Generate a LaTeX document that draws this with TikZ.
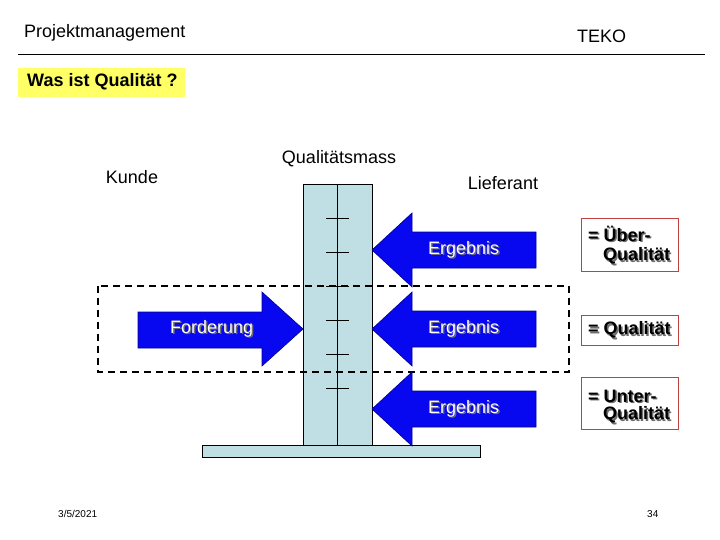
\documentclass[tikz,border=0pt]{standalone}
\usepackage{fontspec}
\setmainfont{Liberation Sans}
\definecolor{colfill}{RGB}{192,223,228}
\definecolor{arrblue}{RGB}{8,8,240}
\definecolor{arredge}{RGB}{0,0,140}
\definecolor{hlyellow}{RGB}{255,255,102}
\definecolor{boxred}{RGB}{192,64,64}
\definecolor{shadowgray}{RGB}{110,110,110}
\tikzset{
  lbl/.style={font=\fontsize{18}{20}\selectfont, inner sep=0pt},
  boldlbl/.style={font=\fontsize{18}{20}\selectfont\bfseries, inner sep=0pt},
  smalllbl/.style={font=\fontsize{10}{12}\selectfont, inner sep=0pt},
  bigarrow/.style={fill=arrblue, draw=arredge, line width=0.6pt},
  resbox/.style={draw=boxred, fill=white, line width=0.8pt},
  shade/.style={text=shadowgray},
}
\newcommand{\shadowed}[4]{% name, position, style, text
  \node[#3, shade, anchor=west] at ($#2+(1.3,1.3)$) {#4};
  \node[#3, anchor=west] (#1) at #2 {#4};
}
\usetikzlibrary{calc}
\begin{document}
\begin{tikzpicture}[x=1pt,y=-1pt]
\useasboundingbox (0,0) rectangle (720,540);
% header
\node[lbl, anchor=west] (title) at (24,33) {Projektmanagement};
\node[lbl, anchor=west] (teko) at (577,36) {TEKO};
\draw[line width=0.8pt] (18,54) -- (705,54);
\fill[hlyellow] (18,68) rectangle (185,97);
\node[boldlbl, anchor=west] (frage) at (27,82) {Was ist Qualität ?};
% labels
\node[lbl] (kunde) at (132,177) {Kunde};
\node[lbl] (mass) at (339,159) {Qualitätsmass};
\node[lbl] (lieferant) at (503,183) {Lieferant};
% base and column
\draw[fill=colfill, line width=0.7pt] (202,445) rectangle (480,457);
\draw[fill=colfill, line width=0.7pt] (303,184) rectangle (372,445);
\draw[line width=0.7pt] (337,184) -- (337,445);
\foreach \y in {218,252,286,320,354,388}
  \draw[line width=0.7pt] (326,\y) -- (349,\y);
% dashed frame
\draw[line width=2.4pt, dash pattern=on 7pt off 5pt] (98,286) rectangle (569,372);
% Forderung arrow
\path[bigarrow] (138,312) -- (262,312) -- (262,292) -- (303,329) -- (262,366) -- (262,348) -- (138,348) -- cycle;
\shadowed{ford}{(170,329)}{lbl, text=white}{Forderung}
% Ergebnis arrows
\foreach \c in {250,329,409}{
  \path[bigarrow] (536,\c-18) -- (412,\c-18) -- (412,\c-37) -- (372,\c) -- (412,\c+37) -- (412,\c+18) -- (536,\c+18) -- cycle;
}
\shadowed{erg1}{(428,250)}{lbl, text=white}{Ergebnis}
\shadowed{erg2}{(428,329)}{lbl, text=white}{Ergebnis}
\shadowed{erg3}{(428,409)}{lbl, text=white}{Ergebnis}
% result boxes
\draw[resbox] (581,218) rectangle (678,271);
\draw[resbox] (581,315) rectangle (678,345);
\draw[resbox] (581,377) rectangle (678,429);
\shadowed{ueber}{(588,234)}{boldlbl}{= Über-}
\shadowed{ueberq}{(603,256)}{boldlbl}{Qualität}
\shadowed{qual}{(588,330)}{boldlbl}{= Qualität}
\shadowed{unter}{(588,396)}{boldlbl}{= Unter-}
\shadowed{unterq}{(603,415)}{boldlbl}{Qualität}
% footer
\node[smalllbl, anchor=west] (datum) at (58,514) {3/5/2021};
\node[smalllbl, anchor=west] (seite) at (647,514) {34};
\end{tikzpicture}
\end{document}
